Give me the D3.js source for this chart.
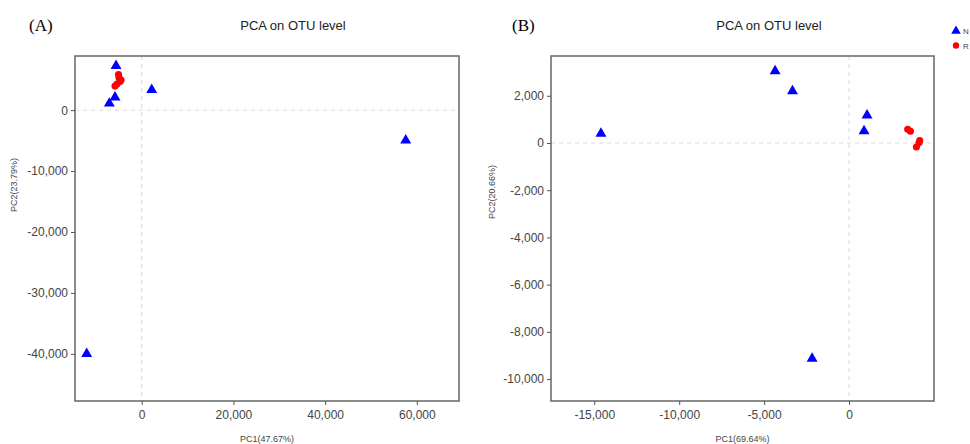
<!DOCTYPE html>
<html>
<head>
<meta charset="utf-8">
<script src="https://cdn.jsdelivr.net/npm/d3@7/dist/d3.min.js"></script>
<style>
  body { margin: 0; background: #fff; }
  svg text { font-family: "Liberation Sans", Arial, sans-serif; }
  .panel-tag { font-family: "Liberation Serif", "Times New Roman", serif !important; font-size: 17px; }
  .title { font-size: 13px; fill: #222; }
  .tick text { font-size: 12px; fill: #444; }
  .axis-label { font-size: 9px; fill: #444; }
</style>
</head>
<body>
<div id="chart"></div>
<script>
// panel A
var aN_x = [-5600, 2180, -5820, -7060, 57580, -12000];
var aN_y = [7290, 3340, 2090, 1100, -4940, -40000];
var aR_x = [-5060, -4950, -4510, -4730, -5390, -5820];
var aR_y = [5840, 5350, 4940, 4690, 4280, 3950];
var aXTicks = [0, 20000, 40000, 60000];
var aYTicks = [0, -10000, -20000, -30000, -40000];

// panel B
var bN_x = [-14606, -4353, -3330, 1059, 882, -2176];
var bN_y = [398, 3051, 2203, 1174, 508, -9136];
var bR_x = [3453, 3612, 4159, 4118, 3965];
var bR_y = [580, 496, 102, 8, -169];
var bXTicks = [-15000, -10000, -5000, 0];
var bYTicks = [2000, 0, -2000, -4000, -6000, -8000, -10000];

var groups = ["N", "R"];
var colors = { N: "#0000ff", R: "#ff0000" };

var svg = d3.select("#chart").append("svg")
  .attr("width", 970)
  .attr("height", 444);

// plain hyphen as minus sign, like the original
var fmt = d3.formatLocale({ decimal: ".", thousands: ",", grouping: [3], currency: ["", ""], minus: "-" }).format(",");

function drawPanel(cfg) {
  var g = svg.append("g");
  var x = d3.scaleLinear().domain(cfg.xDomain).range([cfg.left, cfg.right]);
  var y = d3.scaleLinear().domain(cfg.yDomain).range([cfg.bottom, cfg.top]);

  // zero lines
  g.append("line")
    .attr("x1", x(0)).attr("x2", x(0))
    .attr("y1", cfg.top).attr("y2", cfg.bottom)
    .attr("stroke", "#d9d9d9").attr("stroke-dasharray", "4,4");
  g.append("line")
    .attr("x1", cfg.left).attr("x2", cfg.right)
    .attr("y1", y(0)).attr("y2", y(0))
    .attr("stroke", "#d9d9d9").attr("stroke-dasharray", "4,4");

  // frame
  g.append("rect")
    .attr("x", cfg.left).attr("y", cfg.top)
    .attr("width", cfg.right - cfg.left)
    .attr("height", cfg.bottom - cfg.top)
    .attr("fill", "none")
    .attr("stroke", "#666")
    .attr("stroke-width", 1.5);

  var xAxis = g.append("g")
    .attr("transform", "translate(0," + cfg.bottom + ")")
    .call(d3.axisBottom(x).tickValues(cfg.xTicks).tickFormat(fmt).tickSize(4).tickPadding(5));
  var yAxis = g.append("g")
    .attr("transform", "translate(" + cfg.left + ",0)")
    .call(d3.axisLeft(y).tickValues(cfg.yTicks).tickFormat(fmt).tickSize(4).tickPadding(3));
  [xAxis, yAxis].forEach(function(ax) {
    ax.select(".domain").remove();
    ax.selectAll(".tick line").attr("stroke", "#555");
  });

  var tri = d3.symbol().type(d3.symbolTriangle).size(52);
  var dot = d3.symbol().type(d3.symbolCircle).size(40);

  g.selectAll(".n").data(cfg.nx).enter().append("path")
    .attr("d", tri)
    .attr("transform", function(d, i) { return "translate(" + x(d) + "," + y(cfg.ny[i]) + ")"; })
    .attr("fill", colors.N);
  g.selectAll(".r").data(cfg.rx).enter().append("path")
    .attr("d", dot)
    .attr("transform", function(d, i) { return "translate(" + x(d) + "," + y(cfg.ry[i]) + ")"; })
    .attr("fill", colors.R);

  g.append("text").attr("class", "panel-tag")
    .attr("x", cfg.tagX).attr("y", 31).text(cfg.tag);
  g.append("text").attr("class", "title")
    .attr("x", cfg.titleX).attr("y", 30).attr("text-anchor", "middle")
    .text("PCA on OTU level");
  g.append("text").attr("class", "axis-label")
    .attr("x", (cfg.left + cfg.right) / 2).attr("y", 442).attr("text-anchor", "middle")
    .text(cfg.xLabel);
  g.append("text").attr("class", "axis-label")
    .attr("transform", "translate(" + cfg.yLabelX + "," + cfg.yLabelY + ") rotate(-90)")
    .attr("text-anchor", "middle")
    .text(cfg.yLabel);
}

drawPanel({
  tag: "(A)", tagX: 29, titleX: 293,
  left: 75, right: 459, top: 56, bottom: 401,
  xDomain: [-14550, 69200], yDomain: [-47740, 8890],
  xTicks: aXTicks, yTicks: aYTicks,
  nx: aN_x, ny: aN_y, rx: aR_x, ry: aR_y,
  xLabel: "PC1(47.67%)", yLabel: "PC2(23.79%)", yLabelX: 17, yLabelY: 185
});

drawPanel({
  tag: "(B)", tagX: 512, titleX: 769,
  left: 551, right: 934, top: 56, bottom: 401,
  xDomain: [-17547, 5000], yDomain: [-10930, 3686],
  xTicks: bXTicks, yTicks: bYTicks,
  nx: bN_x, ny: bN_y, rx: bR_x, ry: bR_y,
  xLabel: "PC1(69.64%)", yLabel: "PC2(20.66%)", yLabelX: 495, yLabelY: 192
});

// legend
var legend = svg.append("g").attr("transform", "translate(956,0)");
groups.forEach(function(k, i) {
  var sym = d3.symbol().type(k === "N" ? d3.symbolTriangle : d3.symbolCircle).size(k === "N" ? 40 : 32);
  legend.append("path").attr("d", sym)
    .attr("transform", "translate(0," + (31 + i * 14.5) + ")")
    .attr("fill", colors[k]);
  legend.append("text")
    .attr("x", 7).attr("y", 34 + i * 14.5)
    .attr("font-size", 8).attr("fill", "#444")
    .text(k);
});
</script>
</body>
</html>
